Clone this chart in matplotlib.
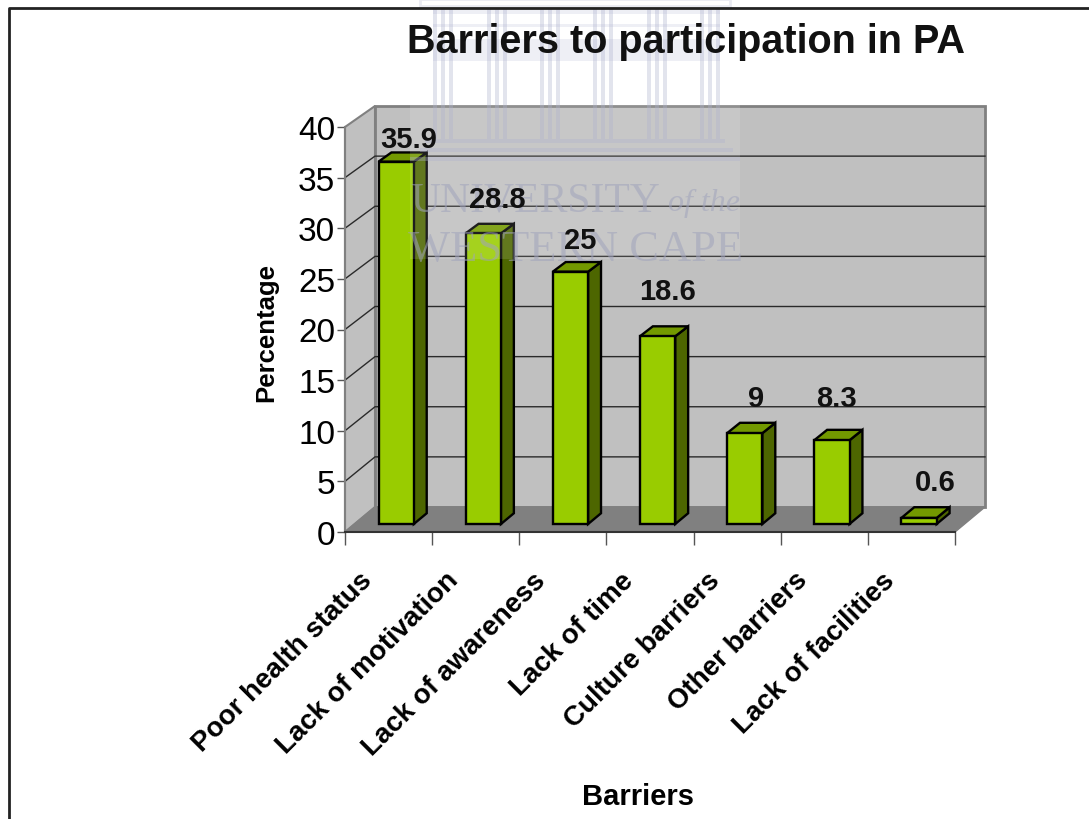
# -*- coding: utf-8 -*-
import matplotlib
matplotlib.use('Agg')
import matplotlib.pyplot as plt
from matplotlib.patches import Polygon, Rectangle

categories = ['Poor health status', 'Lack of motivation', 'Lack of awareness', 'Lack of time',
              'Culture barriers', 'Other barriers', 'Lack of facilities']
values = [35.9, 28.8, 25, 18.6, 9, 8.3, 0.6]
value_labels = ['35.9', '28.8', '25', '18.6', '9', '8.3', '0.6']
y_ticks = [0, 5, 10, 15, 20, 25, 30, 35, 40]

W, H = 1089, 820
plt.rcParams['font.family'] = ['Liberation Sans', 'DejaVu Sans']

fig = plt.figure(figsize=(W / 100, H / 100), dpi=100)
ax = fig.add_axes([345 / W, (H - 533) / H, 610 / W, 405 / H])
ax.set_xlim(0, 7)
ax.set_ylim(0, 40)

# fake 3d box: depth d goes 0 (front) to 1 (back wall), back wall is a bit shorter
dx = 30 * 7 / 610
dy = 25 * 40 / 405
shrink = 4 / 405
front_d, back_d = 0.32, 0.75
bar_w = 0.405
bar_shift = -2 * 7 / 610


def proj(x, v, d):
    return x + d * dx, v * (1 - d * shrink) + d * dy


# walls and floor
ax.add_patch(Polygon([proj(0, 0, 0), proj(0, 40, 0), proj(0, 40, 1), proj(0, 0, 1)],
                     fc='#C0C0C0', ec='#808080', lw=1.5, clip_on=False, zorder=1))
ax.add_patch(Polygon([proj(0, 0, 1), proj(0, 40, 1), proj(7, 40, 1), proj(7, 0, 1)],
                     fc='#C0C0C0', ec='#808080', lw=2, clip_on=False, zorder=1))
ax.add_patch(Polygon([proj(0, 0, 0), proj(0, 0, 1), proj(7, 0, 1), proj(7, 0, 0)],
                     fc='#808080', ec='#808080', lw=1, clip_on=False, zorder=1))

for t in y_ticks[1:-1]:
    pts = [proj(0, t, 0), proj(0, t, 1), proj(7, t, 1)]
    ax.plot([p[0] for p in pts], [p[1] for p in pts], color='#2a2a2a', lw=1, clip_on=False, zorder=2)

# bars
for i, v in enumerate(values):
    x0 = i + 0.5 - bar_w / 2 + bar_shift
    x1 = x0 + bar_w
    fx0, fy0 = proj(x0, 0, front_d)
    fx1, fy1 = proj(x1, v, front_d)
    ax.bar((fx0 + fx1) / 2, fy1 - fy0, bar_w, bottom=fy0, color='#99CC00', edgecolor='black', lw=1.7,
           zorder=5, clip_on=False)
    ax.add_patch(Polygon([proj(x1, 0, front_d), proj(x1, v, front_d), proj(x1, v, back_d), proj(x1, 0, back_d)],
                         fc='#4D6600', ec='black', lw=1.7, clip_on=False, zorder=4))
    ax.add_patch(Polygon([proj(x0, v, front_d), proj(x1, v, front_d), proj(x1, v, back_d), proj(x0, v, back_d)],
                         fc='#739900', ec='black', lw=1.7, clip_on=False, zorder=4))

# axes
for s in ['top', 'right']:
    ax.spines[s].set_visible(False)
ax.spines['left'].set_color('#808080')
ax.spines['left'].set_linewidth(1.5)
ax.spines['bottom'].set_color('#333333')
ax.spines['bottom'].set_linewidth(1.5)
ax.patch.set_visible(False)
ax.set_yticks(y_ticks)
ax.tick_params(axis='y', labelsize=24, length=6, width=1, color='#555555', pad=1)
ax.set_xticks(range(8))
ax.set_xticklabels([])
ax.tick_params(axis='x', which='major', length=9, width=1, color='#555555')
# labels sit left of the category centre in the original
ax.set_xticks([i + 0.5 - 30 * 7 / 610 for i in range(7)], minor=True)
ax.set_xticklabels(categories, minor=True, rotation=45, ha='right', va='top', rotation_mode='anchor',
                   fontsize=20, fontweight='bold')
ax.tick_params(axis='x', which='minor', length=0, pad=25)

ax.set_xlabel('Barriers', fontsize=21, fontweight='bold', va='center')
ax.xaxis.set_label_coords((638 - 345) / 610, (533 - 797) / 405)
ax.set_ylabel('Percentage', fontsize=18.5, fontweight='bold', va='center')
ax.yaxis.set_label_coords((266 - 345) / 610, (533 - 332) / 405)

# page frame and the scanned watermark on top, drawn in pixel coordinates
over = fig.add_axes([0, 0, 1, 1], zorder=10)
over.set_xlim(0, W)
over.set_ylim(H, 0)
over.axis('off')
over.plot([9, 9, W], [H, 9, 9], color='#222222', lw=2)

mark = '#AEB2CE'
over.add_patch(Rectangle((410, 0), 330, 260, fc='white', alpha=0.12, ec='none'))
over.add_patch(Rectangle((420, 0), 310, 7, fc='none', ec=mark, alpha=0.25, lw=2))
over.add_patch(Rectangle((433, 10), 287, 5, fc=mark, alpha=0.2, ec='none'))
over.add_patch(Rectangle((433, 25), 287, 3, fc=mark, alpha=0.2, ec='none'))
over.add_patch(Rectangle((433, 40), 287, 22, fc=mark, alpha=0.2, ec='none'))
for cx in [443, 497, 550, 603, 657, 710]:
    for off in [-8, 0, 8]:
        over.add_patch(Rectangle((cx + off - 2, 10), 4, 130, fc=mark, alpha=0.35, ec='none'))
for x0, x1, y0 in [(425, 725, 140), (420, 733, 149), (410, 740, 158)]:
    over.add_patch(Rectangle((x0, y0), x1 - x0, 4, fc=mark, alpha=0.35, ec='none'))
over.text(535, 201, 'UNIVERSITY', family=['Liberation Serif'], fontsize=30, color='#A0A3BC', alpha=0.55,
          ha='center', va='center')
over.text(704, 203, 'of the', family=['Liberation Serif'], style='italic', fontsize=23, color='#A0A3BC', alpha=0.55,
          ha='center', va='center')
over.text(575, 250, 'WESTERN CAPE', family=['Liberation Serif'], fontsize=32, color='#A0A3BC', alpha=0.55,
          ha='center', va='center')

# title and value labels stay above the watermark
over.text(686, 42, 'Barriers to participation in PA', fontsize=28.5, fontweight='bold', ha='center',
          va='center', color='#111111', zorder=20)

label_dx = [11, 12, 8, 8, 9, 3, 14]
label_dy = [23, 34, 32, 45, 35, 42, 36]
for i, v in enumerate(values):
    over.annotate(value_labels[i], proj(i + 0.5, v, front_d), xycoords=ax.transData,
                  xytext=(label_dx[i] * 0.72, label_dy[i] * 0.72), textcoords='offset points',
                  ha='center', va='center', fontsize=21, fontweight='bold', color='#111111', zorder=20)

fig.savefig('out.png', dpi=100)
